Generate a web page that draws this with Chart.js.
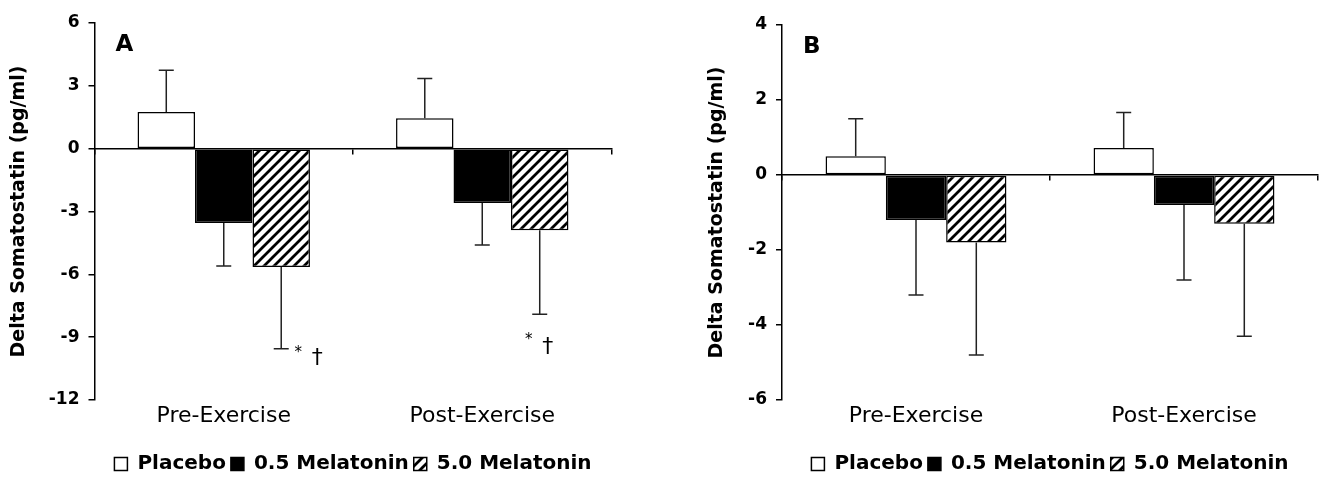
<!DOCTYPE html>
<html>
<head>
<meta charset="utf-8">
<script src="https://cdn.jsdelivr.net/npm/chart.js@4"></script>
<style>
  body { margin: 0; background: #fff; }
  canvas { position: absolute; top: 0; }
</style>
</head>
<body>
<canvas id="chart-a" width="660" height="478" style="left:0"></canvas>
<canvas id="chart-b" width="633" height="478" style="left:690px"></canvas>
<script>
// Shared data
const labels = ['Pre-Exercise', 'Post-Exercise'];
const seriesNames = ['Placebo', '0.5 Melatonin', '5.0 Melatonin'];

// Panel A values and SE (error drawn away from zero)
const a_placebo = [1.75, 1.45];
const a_mel05 = [-3.55, -2.6];
const a_mel50 = [-5.65, -3.9];
const a_placebo_err = [2.0, 1.9];
const a_mel05_err = [2.05, 2.0];
const a_mel50_err = [3.9, 4.0];
const a_ticks = [-12, 6, 3];   // min, max, step

// Panel B values and SE
const b_placebo = [0.5, 0.72];
const b_mel05 = [-1.2, -0.8];
const b_mel50 = [-1.8, -1.3];
const b_placebo_err = [1.0, 0.95];
const b_mel05_err = [2.0, 2.0];
const b_mel50_err = [3.0, 3.0];
const b_ticks = [-6, 4, 2];

const FONT = 'DejaVu Sans';

// diagonal "/" hatch for the 5.0 group
function makeHatch() {
  const n = 10;
  const c = document.createElement('canvas');
  c.width = n; c.height = n;
  const g = c.getContext('2d');
  g.fillStyle = '#fff';
  g.fillRect(0, 0, n, n);
  g.strokeStyle = '#000';
  g.lineWidth = 2.8;
  g.beginPath();
  g.moveTo(-2, n + 2); g.lineTo(n + 2, -2);   // x+y = n
  g.moveTo(-2, 2); g.lineTo(2, -2);           // x+y = 0
  g.moveTo(n - 2, n + 2); g.lineTo(n + 2, n - 2); // x+y = 2n
  g.stroke();
  return g.createPattern(c, 'repeat');
}
const hatch = makeHatch();

// error bars + significance marks
const errorBars = {
  id: 'errorBars',
  afterDatasetsDraw(chart, args, opts) {
    const ctx = chart.ctx;
    const y = chart.scales.y;
    ctx.save();
    ctx.strokeStyle = opts.color;
    ctx.lineWidth = opts.width;
    chart.data.datasets.forEach((ds, di) => {
      chart.getDatasetMeta(di).data.forEach((bar, i) => {
        const v = ds.data[i];
        const end = v + (v >= 0 ? 1 : -1) * ds.errors[i];
        const y0 = y.getPixelForValue(v);
        const y1 = y.getPixelForValue(end);
        ctx.beginPath();
        ctx.moveTo(bar.x, y0);
        ctx.lineTo(bar.x, y1);
        ctx.moveTo(bar.x - opts.cap / 2, y1);
        ctx.lineTo(bar.x + opts.cap / 2, y1);
        ctx.stroke();
      });
    });
    ctx.fillStyle = '#000';
    ctx.textAlign = 'center';
    ctx.textBaseline = 'middle';
    (opts.marks || []).forEach(m => {
      const ds = chart.data.datasets[m.dataset];
      const bar = chart.getDatasetMeta(m.dataset).data[m.index];
      const v = ds.data[m.index];
      const end = v + (v >= 0 ? 1 : -1) * ds.errors[m.index];
      ctx.font = m.font;
      ctx.fillText(m.text, bar.x + m.dx, y.getPixelForValue(end) + m.dy);
    });
    ctx.restore();
  }
};

// "A" / "B" panel letter
const panelLetter = {
  id: 'panelLetter',
  afterDraw(chart, args, opts) {
    const ctx = chart.ctx;
    ctx.save();
    ctx.font = 'bold 23px ' + FONT;
    ctx.fillStyle = '#000';
    ctx.textBaseline = 'middle';
    ctx.fillText(opts.text, chart.chartArea.left + opts.dx, chart.chartArea.top + opts.dy);
    ctx.restore();
  }
};

function makeConfig(vals, errs, ticks, o) {
  return {
    type: 'bar',
    data: {
      labels: labels,
      datasets: [
        { label: seriesNames[0], data: vals[0], errors: errs[0], backgroundColor: '#fff' },
        { label: seriesNames[1], data: vals[1], errors: errs[1], backgroundColor: '#000' },
        { label: seriesNames[2], data: vals[2], errors: errs[2], backgroundColor: hatch }
      ].map(d => Object.assign(d, {
        xAxisID: 'x',
        borderColor: '#000',
        borderWidth: 1.5,
        borderSkipped: false,
        barPercentage: 1,
        categoryPercentage: o.catPct
      }))
    },
    options: {
      responsive: false,
      animation: false,
      layout: { padding: { top: o.top, right: o.right, bottom: -6, left: 0 } },
      scales: {
        x: {
          type: 'category',
          position: 'bottom',
          grid: { display: false, drawTicks: false },
          border: { display: false },
          ticks: { color: '#000', padding: 3, font: { family: FONT, size: 22 } },
          afterFit: s => { s.height = 49; }
        },
        x2: {
          type: 'category',
          axis: 'x',
          position: { y: 0 },
          offset: true,
          grid: { offset: true, drawOnChartArea: false, drawTicks: true, tickLength: 5, color: '#000', lineWidth: 1.5 },
          border: { display: true, color: '#000', width: 1.5 },
          ticks: { display: false }
        },
        y: {
          min: ticks[0],
          max: ticks[1],
          grid: { drawOnChartArea: false, drawTicks: true, tickLength: 6, color: '#000', lineWidth: 1.5 },
          border: { color: '#000', width: 1.5 },
          ticks: { stepSize: ticks[2], color: '#000', padding: 9, font: { family: FONT, size: 17, weight: 'bold' } },
          title: {
            display: true,
            text: 'Delta Somatostatin (pg/ml)',
            color: '#000',
            padding: { top: o.titlePad, bottom: 0 },
            font: { family: FONT, size: 19, weight: 'bold' }
          },
          afterFit: s => { s.width = o.axisW; }
        }
      },
      plugins: {
        legend: {
          position: 'bottom',
          fullSize: false,
          labels: {
            color: '#000',
            boxWidth: 13,
            boxHeight: 13,
            padding: 5,
            font: { family: FONT, size: 20, weight: 'bold' }
          }
        },
        tooltip: { enabled: false },
        errorBars: { color: '#222', width: 1.5, cap: 15, marks: o.marks },
        panelLetter: { text: o.letter, dx: 21, dy: 22 }
      }
    },
    plugins: [errorBars, panelLetter]
  };
}

// Panel A
var chartA = new Chart(
  document.getElementById('chart-a'),
  makeConfig(
    [a_placebo, a_mel05, a_mel50],
    [a_placebo_err, a_mel05_err, a_mel50_err],
    a_ticks,
    {
      catPct: 0.667, top: 23, right: 48.5, axisW: 94.5, titlePad: 8, letter: 'A',
      marks: [
        { dataset: 2, index: 0, text: '*', dx: 17, dy: 4, font: '15px ' + FONT },
        { dataset: 2, index: 0, text: '\u2020', dx: 36, dy: 10, font: '22px ' + FONT },
        { dataset: 2, index: 1, text: '*', dx: -11, dy: 26, font: '15px ' + FONT },
        { dataset: 2, index: 1, text: '\u2020', dx: 8, dy: 33, font: '22px ' + FONT }
      ]
    }
  )
);

// Panel B
var chartB = new Chart(
  document.getElementById('chart-b'),
  makeConfig(
    [b_placebo, b_mel05, b_mel50],
    [b_placebo_err, b_mel05_err, b_mel50_err],
    b_ticks,
    { catPct: 0.675, top: 25, right: 5, axisW: 92, titlePad: 16, letter: 'B', marks: [] }
  )
);
</script>
</body>
</html>
